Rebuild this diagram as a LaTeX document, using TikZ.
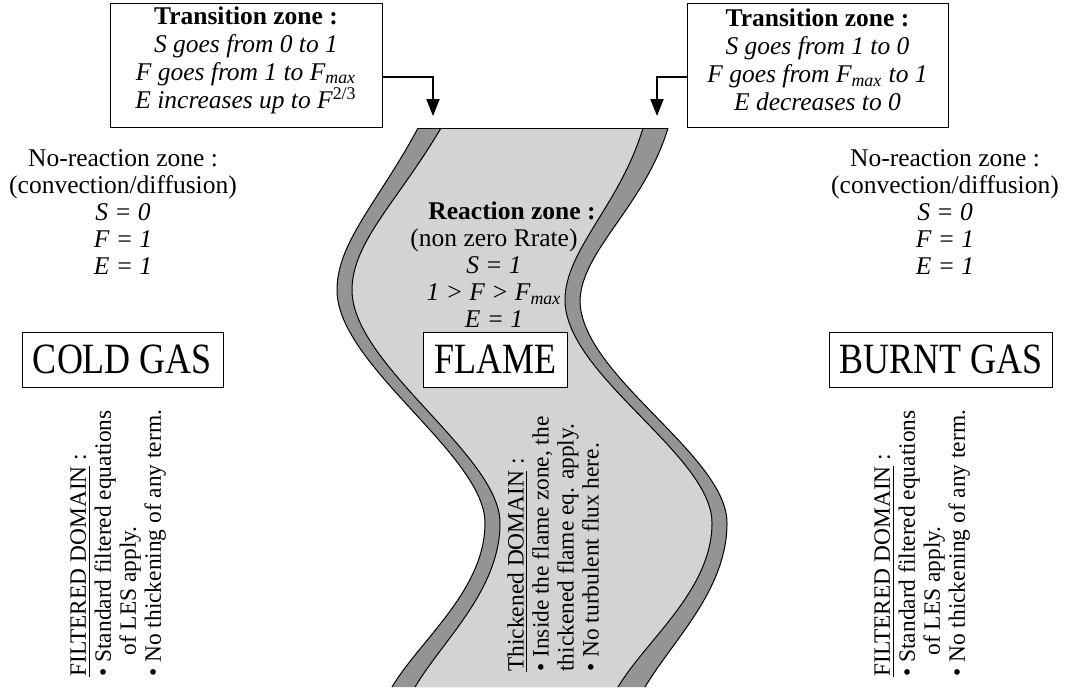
\documentclass[tikz,border=0pt]{standalone}
\usepackage{fontspec}
\setmainfont{Liberation Serif}
\usetikzlibrary{arrows.meta}
\definecolor{flamelight}{RGB}{211,211,211}
\definecolor{flamedark}{RGB}{148,148,148}
\tikzset{
 txt/.style={font=\fontsize{12.75}{13.5}\selectfont, align=center, inner sep=0pt},
 boxtxt/.style={font=\fontsize{12.75}{14}\selectfont, align=center, inner sep=0pt},
 zonebox/.style={draw, line width=0.5pt, fill=white, inner sep=0pt, minimum height=62pt},
 gasbox/.style={draw, line width=0.5pt, fill=white, font=\fontsize{18}{20}\selectfont, inner sep=0pt, minimum height=27.5pt},
 domtext/.style={font=\fontsize{11.7}{12.5}\selectfont, align=left, inner sep=0pt, rotate=90, anchor=north west},
 conn/.style={line width=1pt, -{Triangle[width=6.5pt,length=8.5pt]}},
 bandline/.style={line width=0.5pt},
 % #1 top x, #2/#3 first control, #4/#5 second control, #6/#7 leftmost point, #8 rightmost x, #9 bottom x
 bandcurve/.style n args={9}{insert path={(#1,128) .. controls (#2,#3) and (#4,#5) .. (#6,#7) .. controls (#6,{#7+75}) and (#8,455) .. (#8,523) .. controls (#8,590) and ({#9+28},640) .. (#9,687)}},
}
\newcommand\tallgas[1]{\scalebox{1}[1.2]{#1}}
\begin{document}
\begin{tikzpicture}[x=0.5pt,y=-0.5pt]
\useasboundingbox (0,0) rectangle (1068,687);
% flame band
\begin{scope}
 \clip[bandcurve={668}{645}{205}{582}{250}{580}{300}{727}{645}] -- (0,687) -- (0,128) -- cycle;
 \fill[flamedark, bandcurve={418}{379}{201}{337}{242}{337}{290}{485}{392}] -- (1068,687) -- (1068,128) -- cycle;
\end{scope}
\begin{scope}
 \clip[bandcurve={643}{620}{205}{565}{250}{565}{300}{712}{618}] -- (0,687) -- (0,128) -- cycle;
 \fill[flamelight, bandcurve={441}{398}{201}{352}{242}{352}{290}{500}{415}] -- (1068,687) -- (1068,128) -- cycle;
\end{scope}
\draw[bandline, bandcurve={418}{379}{201}{337}{242}{337}{290}{485}{392}];
\draw[bandline, bandcurve={441}{398}{201}{352}{242}{352}{290}{500}{415}];
\draw[bandline, bandcurve={643}{620}{205}{565}{250}{565}{300}{712}{618}];
\draw[bandline, bandcurve={668}{645}{205}{582}{250}{580}{300}{727}{645}];
\draw[bandline] (418,128) -- (668,128);
% transition boxes
\node[zonebox, minimum width=136pt] (tl) at (246,65) {};
\node[boxtxt] (tltext) at (246,60) {\textbf{Transition zone :}\\\textit{S goes from 0 to 1}\\\textit{F goes from 1 to F\textsubscript{max}}\\\textit{E increases up to F\textsuperscript{\textup{2/3}}}};
\node[zonebox, minimum width=130.5pt] (tr) at (817.5,65) {};
\node[boxtxt] (trtext) at (817.5,60) {\textbf{Transition zone :}\\\textit{S goes from 1 to 0}\\\textit{F goes from F\textsubscript{max} to 1}\\\textit{E decreases to 0}};
\coordinate (tla) at (433,116);
\coordinate (tra) at (657,116);
\draw[conn] (tl.east) ++(0,12) -| (tla);
\draw[conn] (tr.west) ++(0,12) -| (tra);
% zone texts
\node[txt] (nrl) at (123,212) {No-reaction zone :\\(convection/diffusion)\\\textit{S = 0}\\\textit{F = 1}\\\textit{E = 1}};
\node[txt] (nrr) at (945,212) {No-reaction zone :\\(convection/diffusion)\\\textit{S = 0}\\\textit{F = 1}\\\textit{E = 1}};
\node[txt] (rz) at (494,265) {\hspace*{18pt}\textbf{Reaction zone :}\\(non zero Rrate)\\\textit{S = 1}\\\textit{1 > F > F\textsubscript{max}}\\\textit{E = 1}};
% gas boxes
\node[gasbox, minimum width=100.5pt] (cold) at (122.5,359.5) {\tallgas{COLD GAS}};
\node[gasbox, minimum width=72pt] (flame) at (495,359.5) {\tallgas{FLAME}};
\node[gasbox, minimum width=111.5pt] (burnt) at (941,359.5) {\tallgas{BURNT GAS}};
% domain texts
\node[domtext] (fdl) at (70,677) {\underline{FILTERED DOMAIN} :\\• Standard filtered equations\\\hspace*{0.9em}of LES apply.\\• No thickening of any term.};
\node[domtext] (tdc) at (507,672) {\underline{Thickened DOMAIN} :\\• Inside the flame zone, the\\thickened flame eq. apply.\\• No turbulent flux here.};
\node[domtext] (fdr) at (874,677) {\underline{FILTERED DOMAIN} :\\• Standard filtered equations\\\hspace*{0.9em}of LES apply.\\• No thickening of any term.};
\end{tikzpicture}
\end{document}
